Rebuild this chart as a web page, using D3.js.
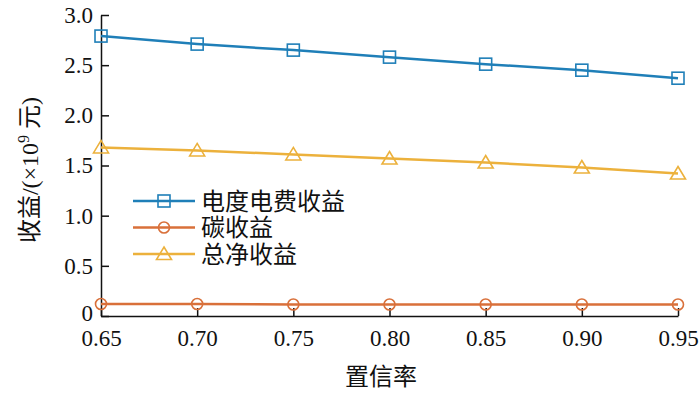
<!DOCTYPE html>
<html>
<head>
<meta charset="utf-8">
<script src="https://cdn.jsdelivr.net/npm/d3@7"></script>
<style>
  body { margin: 0; background: #fff; }
</style>
</head>
<body>
<script>
// confidence levels (x) and the three revenue series, in 10^9 yuan
var confidence = [0.65, 0.70, 0.75, 0.80, 0.85, 0.90, 0.95];
var electricityRevenue = [2.79, 2.71, 2.65, 2.58, 2.51, 2.45, 2.37];
var carbonRevenue = [0.12, 0.12, 0.115, 0.115, 0.115, 0.115, 0.115];
var netRevenue = [1.68, 1.65, 1.61, 1.57, 1.53, 1.48, 1.42];
var xTickLabels = ["0.65", "0.70", "0.75", "0.80", "0.85", "0.90", "0.95"];
var yTicks = [0, 0.5, 1.0, 1.5, 2.0, 2.5, 3.0];
var seriesNames = ["电度电费收益", "碳收益", "总净收益"];

var FONT = "Liberation Serif, DejaVu Serif, Noto Sans CJK SC, serif";

var series = [
    { name: seriesNames[0], values: electricityRevenue, color: "#1f7fb8", marker: "square" },
    { name: seriesNames[1], values: carbonRevenue, color: "#d9703a", marker: "circle" },
    { name: seriesNames[2], values: netRevenue, color: "#ecb13c", marker: "triangle" }
];

var W = 700, H = 394;
var margin = { top: 15, right: 22, bottom: 78, left: 101 };

var svg = d3.select("body").append("svg")
    .attr("width", W)
    .attr("height", H);

var x = d3.scaleLinear().domain([0.65, 0.95]).range([margin.left, W - margin.right]);
var y = d3.scaleLinear().domain([0, 3]).range([H - margin.bottom, margin.top]);

// axes (ticks point inward)
var xAxis = svg.append("g")
    .attr("transform", "translate(0," + (H - margin.bottom) + ")")
    .call(d3.axisBottom(x).tickValues(confidence).tickSize(-8).tickSizeOuter(0)
        .tickFormat(function (d, i) { return xTickLabels[i]; }));
xAxis.attr("font-family", null);
xAxis.selectAll("text").attr("y", 14);

var yAxis = svg.append("g")
    .attr("transform", "translate(" + margin.left + ",0)")
    .call(d3.axisLeft(y).tickValues(yTicks).tickSize(-8).tickSizeOuter(0)
        .tickFormat(function (d) { return d === 0 ? "0" : d3.format(".1f")(d); }));
yAxis.attr("font-family", null);
yAxis.selectAll("text").attr("x", -8)
    .attr("dy", function (d) { return d === 0 ? "0.2em" : "0.32em"; });

svg.selectAll(".domain, .tick line").attr("stroke", "#111").attr("stroke-width", 1.5);
svg.selectAll(".tick text").attr("fill", "#111")
    .attr("font-family", FONT).attr("font-size", 23);

// lines
var line = d3.line()
    .x(function (d, i) { return x(confidence[i]); })
    .y(function (d) { return y(d); });

function drawMarker(g, type, cx, cy, color) {
    if (type === "square") {
        g.append("rect").attr("x", cx - 6).attr("y", cy - 6).attr("width", 12).attr("height", 12)
            .attr("fill", "none").attr("stroke", color).attr("stroke-width", 1.6);
    } else if (type === "circle") {
        g.append("circle").attr("cx", cx).attr("cy", cy).attr("r", 5.5)
            .attr("fill", "none").attr("stroke", color).attr("stroke-width", 1.6);
    } else {
        g.append("path")
            .attr("d", "M" + cx + "," + (cy - 7) + " L" + (cx + 7.5) + "," + (cy + 5.5) + " L" + (cx - 7.5) + "," + (cy + 5.5) + " Z")
            .attr("fill", "none").attr("stroke", color).attr("stroke-width", 1.6);
    }
}

series.forEach(function (s) {
    svg.append("path")
        .datum(s.values)
        .attr("fill", "none")
        .attr("stroke", s.color)
        .attr("stroke-width", 2.5)
        .attr("d", line);
    var mg = svg.append("g");
    s.values.forEach(function (v, i) {
        drawMarker(mg, s.marker, x(confidence[i]), y(v), s.color);
    });
});

// legend
var legend = svg.append("g");
series.forEach(function (s, i) {
    var ly = 201 + i * 26.5;
    legend.append("line").attr("x1", 133).attr("x2", 195).attr("y1", ly).attr("y2", ly)
        .attr("stroke", s.color).attr("stroke-width", 2.5);
    drawMarker(legend, s.marker, 164, ly, s.color);
    legend.append("text").attr("x", 201).attr("y", ly).attr("dy", "0.36em")
        .attr("font-family", FONT).attr("font-size", 24).attr("fill", "#111")
        .text(s.name);
});

// axis titles
svg.append("text")
    .attr("x", 381).attr("y", 385)
    .attr("text-anchor", "middle")
    .attr("font-family", FONT).attr("font-size", 24).attr("fill", "#111")
    .text("置信率");

var yl = svg.append("text")
    .attr("transform", "translate(38,170) rotate(-90)")
    .attr("text-anchor", "middle")
    .attr("font-family", FONT).attr("font-size", 24).attr("fill", "#111");
yl.append("tspan").text("收益/(×10");
yl.append("tspan").attr("dy", -9).attr("font-size", 16).text("9");
yl.append("tspan").attr("dy", 9).text(" 元)");
</script>
</body>
</html>
